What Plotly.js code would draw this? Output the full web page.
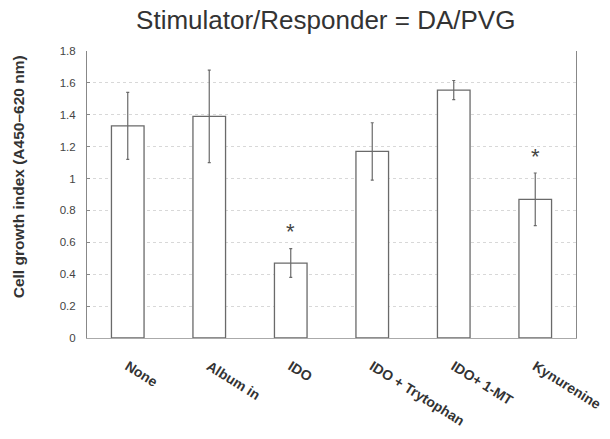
<!DOCTYPE html>
<html><head><meta charset="utf-8">
<script src="https://cdn.plot.ly/plotly-3.0.1.min.js"></script>
<style>html,body{margin:0;padding:0;background:#fff}#chart{width:610px;height:439px}</style>
</head><body><div id="chart"></div>
<script>
const categories = ["None", "Album in", "IDO", "IDO + Trytophan", "IDO+ 1-MT", "Kynurenine"];
const values = [1.33, 1.39, 0.47, 1.17, 1.555, 0.87];
const errors = [0.21, 0.29, 0.09, 0.18, 0.06, 0.165];
const significant = [false, false, true, false, false, true];
const yTicks = [0, 0.2, 0.4, 0.6, 0.8, 1, 1.2, 1.4, 1.6, 1.8];
const yTickLabels = ["0", "0.2", "0.4", "0.6", "0.8", "1", "1.2", "1.4", "1.6", "1.8"];
const yTitle = 'Cell growth index (A450\u2013620 nm)';

const FONT = 'Arial, Liberation Sans, sans-serif';
const trace = {
  type: 'bar', x: categories, y: values,
  marker: {color: '#ffffff', line: {color: '#6a6a6a', width: 1.3}},
  error_y: {type: 'data', array: errors, visible: true, color: '#6a6a6a', thickness: 1.2, width: 1.5},
  hoverinfo: 'skip'
};
const annotations = [];
categories.forEach((c, i) => {
  if (significant[i]) annotations.push({x: c, y: values[i] + errors[i] + 0.015, text: '*', showarrow: false,
    yanchor: 'bottom', font: {family: FONT, size: 22, color: '#444'}});
});
annotations.push({xref: 'paper', yref: 'paper', x: -69 / 489, y: 0.56, text: yTitle, textangle: -90,
  showarrow: false, xanchor: 'center', yanchor: 'middle',
  font: {family: FONT, size: 15.5, color: '#333', weight: 'bold'}});
const layout = {
  width: 610, height: 439,
  margin: {l: 87, r: 34, t: 51, b: 101},
  paper_bgcolor: '#fff', plot_bgcolor: '#fff',
  showlegend: false, bargap: 0.6,
  title: {text: 'Stimulator/Responder = DA/PVG', x: 0.534, xanchor: 'center', y: 0.955, yanchor: 'middle',
    font: {family: FONT, size: 26, color: '#333'}},
  xaxis: {type: 'category', tickangle: 32, showgrid: false, showline: true, linecolor: '#aaa', linewidth: 1,
    ticks: '', ticklabelstandoff: 14,
    tickfont: {family: FONT, size: 14, color: '#333', weight: 'bold'}},
  yaxis: {range: [0, 1.8], tickvals: yTicks, ticktext: yTickLabels, showline: true, linecolor: '#888', linewidth: 1,
    ticks: 'inside', ticklen: 3, tickcolor: '#888', mirror: true, ticklabelstandoff: 8,
    showgrid: true, gridcolor: '#d8d8d8', griddash: 'dot', gridwidth: 1, zeroline: false,
    tickfont: {family: FONT, size: 11.5, color: '#444'}},
  annotations: annotations
};
Plotly.newPlot('chart', [trace], layout, {displayModeBar: false, staticPlot: true});
</script></body></html>
